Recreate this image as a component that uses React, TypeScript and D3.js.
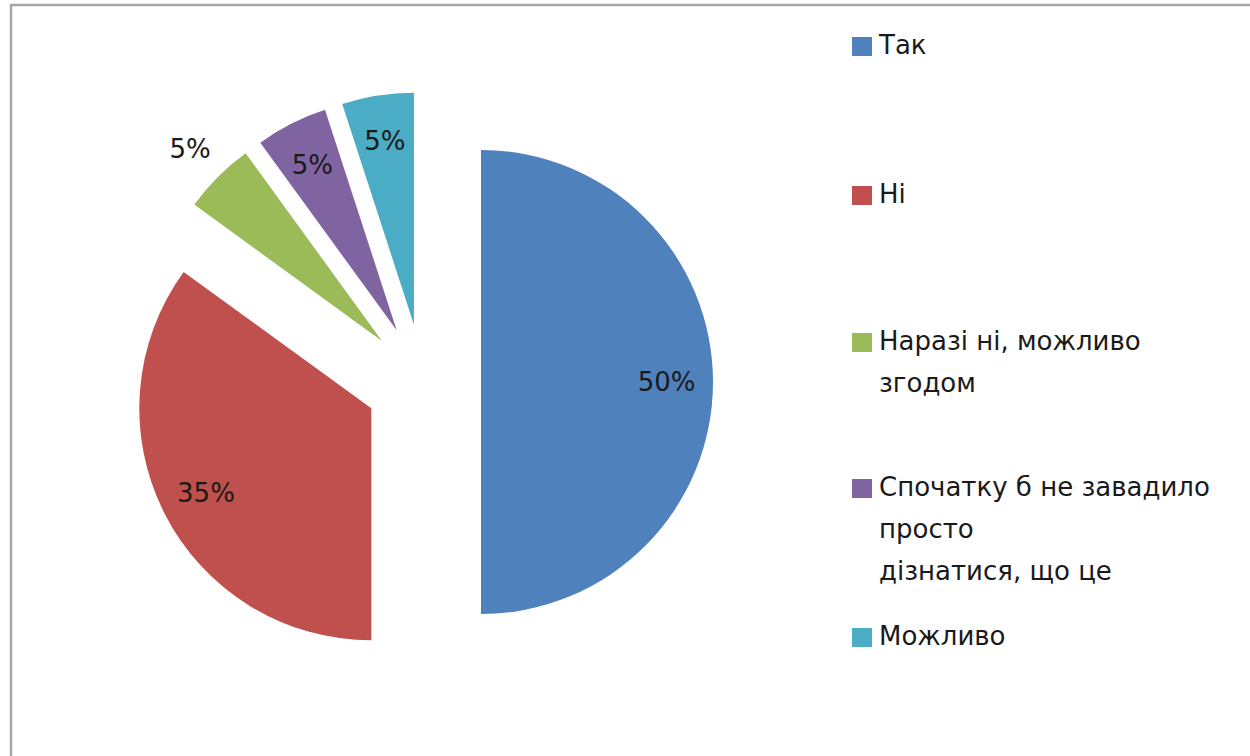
import React from "react";
import * as d3 from "d3";

const categories = ["Так", "Ні", "Наразі ні, можливо згодом", "Спочатку б не завадило просто дізнатися, що це", "Можливо"];
const values = [50, 35, 5, 5, 5];
const valueLabels = ["50%", "35%", "5%", "5%", "5%"];
const legendLines = [["Так"], ["Ні"], ["Наразі ні, можливо", "згодом"], ["Спочатку б не завадило", "просто", "дізнатися, що це"], ["Можливо"]];
const colors = ["#4F81BD", "#C0504D", "#9BBB59", "#8064A2", "#4BACC6"];

const W = 1250, H = 756;
const cx = 423, cy = 382, R = 232, explode = 58;
const FONT = "'DejaVu Sans', sans-serif";
const outsideLabelIdx = 2;

export default function App() {
  const pie = d3.pie<number>().sort(null).value((d) => d);
  const arcs = pie(values);
  const arc = d3.arc<d3.PieArcDatum<number>>().innerRadius(0).outerRadius(R);
  const labelArcIn = d3.arc<d3.PieArcDatum<number>>().innerRadius(R * 0.8).outerRadius(R * 0.8);
  const labelArcOut = d3.arc<d3.PieArcDatum<number>>().innerRadius(R * 1.17).outerRadius(R * 1.17);

  const legendTops = [37, 186, 333, 479, 628];
  const lineH = 42;

  return (
    <svg width={W} height={H} style={{ position: "absolute", left: 0, top: 0, background: "#fff" }} fontFamily={FONT}>
      <rect x={0} y={0} width={W} height={H} fill="#fff" />
      <rect x={11} y={5} width={W + 20} height={H + 20} fill="none" stroke="#a6a6a6" strokeWidth={2.5} />
      <g>
        {arcs.map((a, i) => {
          const mid = (a.startAngle + a.endAngle) / 2;
          const ox = cx + explode * Math.sin(mid);
          const oy = cy - explode * Math.cos(mid);
          const lp = (i === outsideLabelIdx ? labelArcOut : labelArcIn).centroid(a);
          return (
            <g key={i} transform={`translate(${ox},${oy})`}>
              <path d={arc(a) || ""} fill={colors[i]} />
              <text x={lp[0]} y={lp[1]} textAnchor="middle" dominantBaseline="central" fontSize={26} fill="#1a1a1a">
                {valueLabels[i]}
              </text>
            </g>
          );
        })}
      </g>
      <g>
        {categories.map((c, i) => (
          <g key={c}>
            <rect x={852} y={legendTops[i]} width={20} height={19} fill={colors[i]} />
            {legendLines[i].map((ln, j) => (
              <text key={j} x={879} y={legendTops[i] + 17 + j * lineH} fontSize={26} fill="#1a1a1a">
                {ln}
              </text>
            ))}
          </g>
        ))}
      </g>
    </svg>
  );
}
